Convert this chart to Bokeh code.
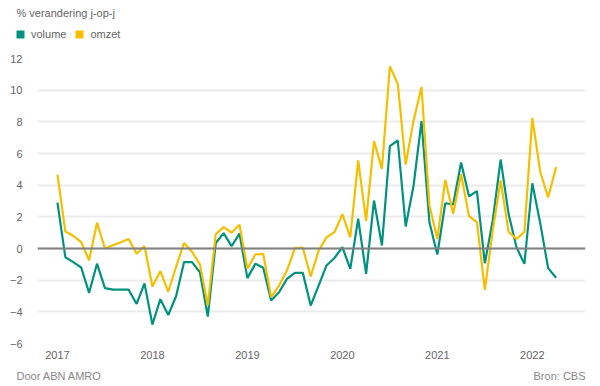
from bokeh.plotting import figure
from bokeh.layouts import column, row
from bokeh.models import Label, Legend, LegendItem, Span, FixedTicker, ColumnDataSource, Range1d
from bokeh.embed import file_html
from bokeh.resources import INLINE

start_year = 2017
volume = [2.9, -0.55, -0.86, -1.2, -2.8, -0.96, -2.5, -2.6, -2.6, -2.6, -3.5, -2.2,
          -4.8, -3.2, -4.2, -3.0, -0.86, -0.86, -1.5, -4.3, 0.35, 0.97, 0.15, 0.94,
          -1.87, -0.97, -1.22, -3.28, -2.76, -1.92, -1.54, -1.54, -3.6, -2.34, -1.07, -0.6,
          0.08, -1.28, 1.88, -1.6, 3.03, 0.19, 6.46, 6.82, 1.39, 3.98, 8.04, 1.66,
          -0.38, 2.86, 2.78, 5.43, 3.3, 3.62, -0.93, 1.77, 5.62, 2.19, 0.08, -0.97,
          4.12, 1.6, -1.24, -1.85]
omzet = [4.67, 1.07, 0.8, 0.4, -0.75, 1.63, 0.0, 0.2, 0.4, 0.6, -0.33, 0.15,
         -2.4, -1.43, -2.73, -1.15, 0.35, -0.2, -1.0, -3.6, 0.9, 1.35, 1.0, 1.5,
         -1.28, -0.38, -0.34, -3.07, -2.34, -1.39, 0.02, 0.05, -1.77, -0.13, 0.7, 1.03,
         2.17, 0.7, 5.56, 1.75, 6.78, 5.03, 11.5, 10.4, 5.3, 8.09, 10.2, 2.72,
         0.61, 4.34, 2.19, 4.7, 2.05, 1.66, -2.61, 1.14, 4.3, 1.05, 0.6, 1.05,
         8.25, 4.85, 3.22, 5.15]
year_ticks = [2017, 2018, 2019, 2020, 2021, 2022]
y_ticks = [-6, -4, -2, 0, 2, 4, 6, 8, 10, 12]
series_names = ["volume", "omzet"]
colors = ["#00927f", "#f5bf00"]
title_text = "% verandering j-op-j"
footer_left = "Door ABN AMRO"
footer_right = "Bron: CBS"

FONT = "Liberation Sans"
W = 600
NAN = float("nan")


def blank(height):
    f = figure(width=W, height=height, output_backend="svg", toolbar_location=None,
               x_axis_type=None, y_axis_type=None,
               x_range=Range1d(0, W), y_range=Range1d(height, 0),
               min_border=0)
    f.outline_line_color = None
    f.border_fill_color = "white"
    f.background_fill_color = "white"
    return f


# header: title + legend
head = blank(45)
head.add_layout(Label(x=16, y=12, text=title_text, text_font=FONT, text_font_size="11px",
                      text_color="#666666", text_baseline="middle"))
q1 = head.quad(left=[NAN], right=[NAN], top=[NAN], bottom=[NAN], fill_color=colors[0], line_color=None)
q2 = head.quad(left=[NAN], right=[NAN], top=[NAN], bottom=[NAN], fill_color=colors[1], line_color=None)
legend = Legend(items=[LegendItem(label=series_names[0], renderers=[q1]),
                       LegendItem(label=series_names[1], renderers=[q2])],
                orientation="horizontal", location=(15, 5),
                glyph_width=10, glyph_height=10, label_height=10, label_standoff=6, spacing=8,
                padding=0, margin=0, border_line_color=None, background_fill_alpha=0,
                label_text_font=FONT, label_text_font_size="11px", label_text_color="#666666")
head.add_layout(legend, "center")

# main chart
months = [start_year + i / 12 for i in range(len(volume))]
src = ColumnDataSource(dict(x=months, volume=volume, omzet=omzet))

p = figure(width=W, height=320, output_backend="svg", toolbar_location=None,
           x_range=(2016.79, 2022.56), y_range=(-6, 12),
           min_border_left=37, min_border_right=15, min_border_top=13, min_border_bottom=22)
p.outline_line_color = None
p.background_fill_color = "white"
p.border_fill_color = "white"
p.xgrid.grid_line_color = None
p.ygrid.grid_line_color = "#ebebeb"
p.ygrid.grid_line_width = 2
p.yaxis.ticker = FixedTicker(ticks=y_ticks)
p.xaxis.ticker = FixedTicker(ticks=year_ticks)
for ax in (p.xaxis[0], p.yaxis[0]):
    ax.axis_line_color = None
    ax.major_tick_line_color = None
    ax.minor_tick_line_color = None
    ax.major_label_text_font = FONT
    ax.major_label_text_font_size = "11px"
    ax.major_label_text_color = "#666666"
p.xaxis.major_label_standoff = 1
p.yaxis.major_label_standoff = 9

p.add_layout(Span(location=0, dimension="width", line_color="#808080", line_width=2))
p.line("x", "volume", source=src, line_color=colors[0], line_width=2.2)
p.line("x", "omzet", source=src, line_color=colors[1], line_width=2.2)

# footer
foot = blank(21)
foot.add_layout(Label(x=16, y=10, text=footer_left, text_font=FONT, text_font_size="11px",
                      text_color="#888888", text_baseline="middle"))
foot.add_layout(Label(x=585, y=10, text=footer_right, text_font=FONT, text_font_size="11px",
                      text_color="#888888", text_baseline="middle", text_align="right"))

layout = column(row(head), p, row(foot), spacing=0)
open("out.html", "w").write(file_html(layout, INLINE))
